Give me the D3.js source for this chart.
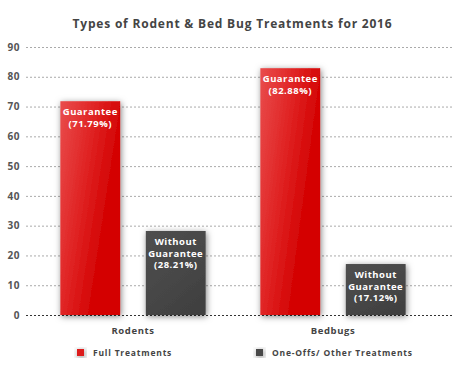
<!DOCTYPE html>
<html>
<head>
<meta charset="utf-8">
<script src="https://cdn.jsdelivr.net/npm/d3@7"></script>
<style>
  body { margin: 0; background: #fff; }
  text { font-family: "Open Sans", "DejaVu Sans", sans-serif; font-weight: 700; }
</style>
</head>
<body>
<svg id="chart" width="463" height="372"></svg>
<script>
let categories = ['Rodents', 'Bedbugs'];
let series = ['Full Treatments', 'One-Offs/ Other Treatments'];
let fullValues = [71.79, 82.88];
let otherValues = [28.21, 17.12];
let fullLabels = [['Guarantee', '(71.79%)'], ['Guarantee', '(82.88%)']];
let otherLabels = [['Without', 'Guarantee', '(28.21%)'], ['Without', 'Guarantee', '(17.12%)']];
let yTicks = [0, 10, 20, 30, 40, 50, 60, 70, 80, 90];
let title = 'Types of Rodent & Bed Bug Treatments for 2016';

let svg = d3.select('#chart');
let width = 463, height = 372;

let gridLeft = 26, gridRight = 452;

let y = d3.scaleLinear().domain([0, 90]).range([315, 47]);
let x0 = d3.scaleBand().domain(categories).range([33, 433]).padding(0);
let x1 = d3.scaleBand().domain(series).range([0, x0.bandwidth()])
    .paddingInner(0.3).paddingOuter(0.32);

let defs = svg.append('defs');

let shadow = defs.append('filter')
    .attr('id', 'shadow')
    .attr('x', '-30%').attr('y', '-20%')
    .attr('width', '160%').attr('height', '140%');
shadow.append('feDropShadow')
    .attr('dx', 1).attr('dy', 1.5)
    .attr('stdDeviation', 3)
    .attr('flood-color', '#000')
    .attr('flood-opacity', 0.5);

let redGrad = defs.append('linearGradient')
    .attr('id', 'redGrad')
    .attr('x1', 0).attr('y1', 0).attr('x2', 1).attr('y2', 0.55);
redGrad.append('stop').attr('offset', '0%').attr('stop-color', '#e94c4c');
redGrad.append('stop').attr('offset', '45%').attr('stop-color', '#e02424');
redGrad.append('stop').attr('offset', '80%').attr('stop-color', '#d40404');

let greyGrad = defs.append('linearGradient')
    .attr('id', 'greyGrad')
    .attr('x1', 0).attr('y1', 0).attr('x2', 0.6).attr('y2', 1);
greyGrad.append('stop').attr('offset', '0%').attr('stop-color', '#4f4f4f');
greyGrad.append('stop').attr('offset', '100%').attr('stop-color', '#414141');

let fills = { 'Full Treatments': 'url(#redGrad)', 'One-Offs/ Other Treatments': 'url(#greyGrad)' };
let legendFills = { 'Full Treatments': '#dd1c1c', 'One-Offs/ Other Treatments': '#484848' };

// title
svg.append('text')
    .attr('x', width / 2 + 1)
    .attr('y', 28)
    .attr('text-anchor', 'middle')
    .attr('font-size', '12px')
    .attr('letter-spacing', '0.8px')
    .attr('fill', '#444')
    .text(title);

// grid
let grid = svg.append('g').attr('class', 'grid');
grid.selectAll('line')
    .data(yTicks)
    .enter()
    .append('line')
    .attr('x1', gridLeft)
    .attr('x2', gridRight)
    .attr('y1', d => y(d) + 0.5)
    .attr('y2', d => y(d) + 0.5)
    .attr('stroke', d => d === 0 ? '#333' : '#aaa')
    .attr('stroke-width', d => d === 0 ? 1.2 : 1)
    .attr('stroke-dasharray', '2 2');

// y axis labels
let yAxis = d3.axisLeft(y).tickValues(yTicks).tickSize(0).tickPadding(0);
let ya = svg.append('g')
    .attr('transform', 'translate(20,0)')
    .call(yAxis);
ya.select('.domain').remove();
ya.selectAll('text')
    .attr('font-size', '10px')
    .attr('fill', '#555')
    .attr('letter-spacing', '0.5px')
    .style('font-family', '"Open Sans", "DejaVu Sans", sans-serif')
    .style('font-weight', 700);

// bars
let rows = categories.map((c, i) => ({
    cat: c,
    bars: [
        { key: series[0], value: fullValues[i], label: fullLabels[i] },
        { key: series[1], value: otherValues[i], label: otherLabels[i] }
    ]
}));

let groups = svg.append('g').selectAll('g')
    .data(rows)
    .enter()
    .append('g')
    .attr('transform', d => 'translate(' + x0(d.cat) + ',0)');

groups.selectAll('rect')
    .data(d => d.bars)
    .enter()
    .append('rect')
    .attr('x', d => x1(d.key))
    .attr('y', d => y(d.value))
    .attr('width', x1.bandwidth())
    .attr('height', d => y(0) - y(d.value))
    .attr('fill', d => fills[d.key])
    .attr('filter', 'url(#shadow)');

groups.selectAll('.bar-label')
    .data(d => d.bars)
    .enter()
    .append('text')
    .attr('class', 'bar-label')
    .attr('text-anchor', 'middle')
    .attr('font-size', '9.5px')
    .attr('letter-spacing', '0.5px')
    .attr('fill', '#fff')
    .each(function (d) {
        let t = d3.select(this);
        d.label.forEach((line, i) => {
            t.append('tspan')
                .attr('x', x1(d.key) + x1.bandwidth() / 2)
                .attr('y', y(d.value) + 14 + i * 11.7)
                .text(line);
        });
    });

// category labels
svg.append('g').selectAll('text')
    .data(categories)
    .enter()
    .append('text')
    .attr('x', d => x0(d) + x0.bandwidth() / 2)
    .attr('y', 334)
    .attr('text-anchor', 'middle')
    .attr('font-size', '9.5px')
    .attr('letter-spacing', '0.6px')
    .attr('fill', '#444')
    .text(d => d);

// legend
let legendX = [77, 256];
let legend = svg.append('g').selectAll('g')
    .data(series)
    .enter()
    .append('g')
    .attr('transform', (d, i) => 'translate(' + legendX[i] + ',349)');

legend.append('rect')
    .attr('width', 7)
    .attr('height', 7)
    .attr('fill', d => legendFills[d])
    .attr('filter', 'url(#shadow)');

legend.append('text')
    .attr('x', 16)
    .attr('y', 7)
    .attr('font-size', '8.5px')
    .attr('letter-spacing', '0.8px')
    .attr('fill', '#444')
    .text(d => d);
</script>
</body>
</html>
